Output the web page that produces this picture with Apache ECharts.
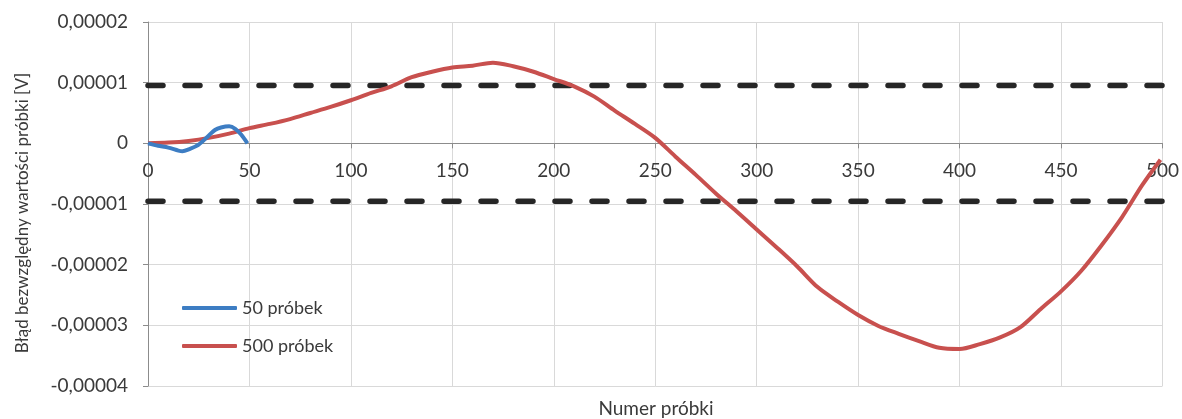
<!DOCTYPE html>
<html>
<head>
<meta charset="utf-8">
<script src="https://cdn.jsdelivr.net/npm/echarts@6/dist/echarts.min.js"></script>
<style>
  html, body { margin: 0; padding: 0; background: #fff; }
  #chart { width: 1182px; height: 419px; }
</style>
</head>
<body>
<div id="chart"></div>
<script>
// values in units of 1e-5 V (converted below)
const UNIT = 1e-5;

const idx500 = [0, 10, 20, 30, 40, 50, 60, 70, 80, 90, 100, 110, 120, 130, 140, 150, 160, 170, 180, 190,
  200, 210, 220, 230, 240, 250, 260, 270, 280, 290, 300, 310, 320, 330, 340, 350, 360, 370, 380, 390,
  400, 410, 420, 430, 440, 450, 460, 470, 480, 490, 499];
const err500 = [0, 0.012, 0.04, 0.09, 0.16, 0.25, 0.32, 0.40, 0.50, 0.60, 0.71, 0.83, 0.94, 1.09, 1.18, 1.25, 1.28, 1.33, 1.27, 1.18,
  1.06, 0.94, 0.77, 0.54, 0.32, 0.09, -0.22, -0.52, -0.83, -1.12, -1.42, -1.72, -2.03, -2.37, -2.61, -2.83, -3.01, -3.14, -3.26, -3.37,
  -3.39, -3.31, -3.20, -3.03, -2.73, -2.44, -2.10, -1.68, -1.22, -0.69, -0.27];

const idx50 = [0, 5, 10, 15, 17, 20, 25, 30, 33, 36, 40, 43, 46, 49];
const err50 = [0, -0.04, -0.07, -0.12, -0.13, -0.10, -0.02, 0.13, 0.22, 0.26, 0.28, 0.24, 0.14, 0];

const limitX = [0, 500];
const limitHigh = 0.954;
const limitLow = -0.954;

const xTicks = { min: 0, max: 500, step: 50 };
const yTicks = { min: -4, max: 2, step: 1 };

const pairs = (xs, ys) => xs.map((x, i) => [x, ys[i] * UNIT]);
const fmtY = v => Math.abs(v) < 1e-12 ? '0' : v.toFixed(5).replace('.', ',');

const FONT = 'Lato';
const TXT = '#3a3a3a';
const GRID = { left: 148, right: 18, top: 22, bottom: 33 };
const plotH = 419 - GRID.top - GRID.bottom;
// lift the x axis up to the zero line
const zeroOffset = -plotH * (-yTicks.min) / (yTicks.max - yTicks.min);

const chart = echarts.init(document.getElementById('chart'));
chart.setOption({
  animation: false,
  textStyle: { fontFamily: FONT },
  grid: GRID,
  legend: {
    data: ['50 próbek', '500 próbek'],
    orient: 'vertical',
    left: 177,
    top: 293,
    icon: 'roundRect',
    itemWidth: 55,
    itemHeight: 4,
    itemGap: 18,
    textStyle: { fontFamily: FONT, fontSize: 18, lineHeight: 20, color: TXT }
  },
  xAxis: {
    type: 'value',
    min: xTicks.min,
    max: xTicks.max,
    interval: xTicks.step,
    offset: zeroOffset,
    axisLine: { onZero: false, lineStyle: { color: '#8c8c8c', width: 1 } },
    axisTick: { show: true, length: 5, lineStyle: { color: '#8c8c8c' } },
    axisLabel: { margin: 18, fontSize: 19, color: TXT, fontFamily: FONT },
    splitLine: { show: true, lineStyle: { color: '#d9d9d9', width: 1 } }
  },
  yAxis: {
    type: 'value',
    min: yTicks.min * UNIT,
    max: yTicks.max * UNIT,
    interval: yTicks.step * UNIT,
    axisLine: { show: true, onZero: false, lineStyle: { color: '#8c8c8c', width: 1 } },
    axisTick: { show: true, length: 5, lineStyle: { color: '#8c8c8c' } },
    axisLabel: { margin: 20, fontSize: 19, color: TXT, fontFamily: FONT, formatter: fmtY },
    splitLine: { show: true, lineStyle: { color: '#d9d9d9', width: 1 } }
  },
  graphic: [
    {
      type: 'text', x: 23, y: 213, rotation: Math.PI / 2,
      style: { text: 'Błąd bezwzględny wartości próbki [V]', fontFamily: FONT, fontSize: 17, fill: TXT,
        align: 'center', verticalAlign: 'middle' }
    },
    {
      type: 'text', x: 656, y: 409,
      style: { text: 'Numer próbki', fontFamily: FONT, fontSize: 19, fill: TXT,
        align: 'center', verticalAlign: 'middle' }
    }
  ],
  series: [
    {
      name: 'limit+', type: 'line', symbol: 'none', silent: true, z: 1,
      data: pairs(limitX, [limitHigh, limitHigh]),
      lineStyle: { color: '#262626', width: 5.5, type: [15, 22], cap: 'round' }
    },
    {
      name: 'limit-', type: 'line', symbol: 'none', silent: true, z: 1,
      data: pairs(limitX, [limitLow, limitLow]),
      lineStyle: { color: '#262626', width: 5.5, type: [15, 22], cap: 'round' }
    },
    {
      name: '50 próbek', type: 'line', symbol: 'none', smooth: 0.3, z: 3,
      data: pairs(idx50, err50),
      itemStyle: { color: '#3D7DC3' },
      lineStyle: { color: '#3D7DC3', width: 4 }
    },
    {
      name: '500 próbek', type: 'line', symbol: 'none', smooth: 0.3, z: 2,
      data: pairs(idx500, err500),
      itemStyle: { color: '#C8504E' },
      lineStyle: { color: '#C8504E', width: 4 }
    }
  ]
});
</script>
</body>
</html>
